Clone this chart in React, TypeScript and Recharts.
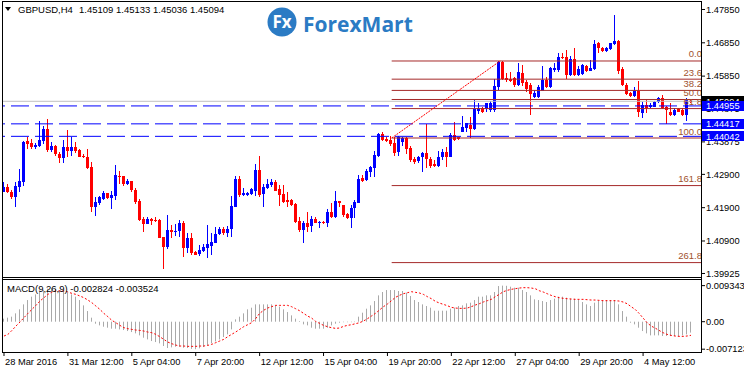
import React from 'react';
import { ComposedChart, Bar, Line, XAxis, YAxis, ReferenceLine } from 'recharts';

const FONT = "'Liberation Sans', Arial, sans-serif";
const W = 744;
const H = 371;

// ---- price data (H4 candles) ----
const opens = [
  1.42383, 1.42513, 1.42383, 1.42233, 1.42533, 1.42683, 1.43903, 1.43853, 1.43713, 1.43763,
  1.43913, 1.44253, 1.43633, 1.43753, 1.43513, 1.43383, 1.43713, 1.43613, 1.43713, 1.43633,
  1.43463, 1.43423, 1.43113, 1.41913, 1.42053, 1.42163, 1.42333, 1.42183, 1.42263, 1.42863,
  1.42853, 1.42613, 1.42703, 1.42433, 1.42103, 1.41563, 1.41423, 1.41563, 1.41533, 1.41533,
  1.41013, 1.40733, 1.41223, 1.41173, 1.41193, 1.41443, 1.40703, 1.41003, 1.40563, 1.40503,
  1.40603, 1.40683, 1.40763, 1.40853, 1.41103, 1.41253, 1.41153, 1.41253, 1.41933, 1.42763,
  1.42273, 1.42293, 1.42313, 1.42413, 1.43033, 1.42303, 1.42503, 1.42583, 1.42673, 1.42453,
  1.42313, 1.42133, 1.42133, 1.42013, 1.41503, 1.41233, 1.41433, 1.41363, 1.41563, 1.41443,
  1.41473, 1.41453, 1.41773, 1.41633, 1.42103, 1.41983, 1.41713, 1.41603, 1.41883, 1.42053,
  1.42803, 1.42733, 1.42983, 1.43103, 1.43463, 1.44104, 1.43964, 1.43934, 1.43834, 1.43564,
  1.43884, 1.43984, 1.43684, 1.43364, 1.43304, 1.43414, 1.43534, 1.43364, 1.43214, 1.43154,
  1.43434, 1.43584, 1.43434, 1.44084, 1.44014, 1.44184, 1.44284, 1.44384, 1.44264, 1.44814,
  1.44884, 1.44854, 1.44834, 1.44833, 1.45532, 1.46260, 1.45803, 1.45754, 1.45784, 1.45583,
  1.45955, 1.45685, 1.45585, 1.45215, 1.45215, 1.45415, 1.45735, 1.45515, 1.46035, 1.46035,
  1.46435, 1.46435, 1.45885, 1.46355, 1.45885, 1.45915, 1.46155, 1.46005, 1.46065, 1.46835,
  1.46705, 1.46615, 1.46655, 1.46815, 1.46905, 1.46055, 1.45585, 1.45335, 1.45255, 1.45415,
  1.44755, 1.44985, 1.44935, 1.44935, 1.45085, 1.45185, 1.44935, 1.44785, 1.44685, 1.44855,
  1.44835, 1.44685, 1.45109,
];
const highs = [
  1.42683, 1.42603, 1.42433, 1.42683, 1.43063, 1.43913, 1.44013, 1.43953, 1.43833, 1.44503,
  1.44353, 1.44563, 1.43863, 1.43783, 1.43583, 1.43933, 1.44233, 1.44023, 1.43883, 1.43653,
  1.43503, 1.43653, 1.43283, 1.42233, 1.42253, 1.42403, 1.42353, 1.42403, 1.43183, 1.42993,
  1.42863, 1.42763, 1.42713, 1.42483, 1.42173, 1.41633, 1.41623, 1.41583, 1.41633, 1.41553,
  1.41033, 1.41673, 1.41383, 1.41403, 1.41523, 1.41513, 1.41133, 1.41133, 1.40593, 1.40783,
  1.40803, 1.41383, 1.41133, 1.41333, 1.41323, 1.41313, 1.41343, 1.42253, 1.42853, 1.42853,
  1.42503, 1.42383, 1.42483, 1.43213, 1.43463, 1.42603, 1.42753, 1.42753, 1.42733, 1.42593,
  1.42583, 1.42363, 1.42153, 1.42033, 1.41613, 1.41503, 1.41783, 1.41653, 1.41633, 1.41503,
  1.41513, 1.41853, 1.42033, 1.42403, 1.42113, 1.41993, 1.41733, 1.41983, 1.42133, 1.42883,
  1.42873, 1.43053, 1.43153, 1.43613, 1.44133, 1.44184, 1.44014, 1.44054, 1.44014, 1.44054,
  1.44034, 1.44014, 1.43754, 1.43434, 1.43464, 1.43564, 1.44414, 1.43434, 1.43334, 1.43614,
  1.43664, 1.43714, 1.44154, 1.44484, 1.44034, 1.44654, 1.44454, 1.44634, 1.45134, 1.45054,
  1.44934, 1.45054, 1.45094, 1.45754, 1.46305, 1.46300, 1.45935, 1.45965, 1.45834, 1.46235,
  1.46185, 1.45735, 1.45635, 1.45435, 1.45585, 1.46155, 1.45815, 1.46135, 1.46235, 1.46535,
  1.46535, 1.46635, 1.46455, 1.46685, 1.46155, 1.46205, 1.46185, 1.46335, 1.46935, 1.46885,
  1.46735, 1.46735, 1.46855, 1.47685, 1.46935, 1.46135, 1.45635, 1.45385, 1.45515, 1.45715,
  1.45085, 1.45155, 1.45035, 1.45115, 1.45235, 1.45285, 1.44955, 1.45055, 1.44885, 1.44885,
  1.44885, 1.45185, 1.45133,
];
const lows = [
  1.42363, 1.42333, 1.42153, 1.41913, 1.42383, 1.42563, 1.43653, 1.43663, 1.43653, 1.43733,
  1.43813, 1.43563, 1.43573, 1.43453, 1.43253, 1.43233, 1.43433, 1.43463, 1.43553, 1.43413,
  1.43383, 1.43073, 1.41773, 1.41663, 1.41983, 1.42123, 1.42153, 1.41873, 1.42133, 1.42613,
  1.42563, 1.42583, 1.42363, 1.42003, 1.41513, 1.41183, 1.41403, 1.41393, 1.41483, 1.40983,
  1.40053, 1.40673, 1.40983, 1.41063, 1.41033, 1.40433, 1.40553, 1.40473, 1.40473, 1.40453,
  1.40583, 1.40383, 1.40483, 1.40833, 1.41083, 1.41083, 1.41033, 1.41033, 1.41913, 1.42233,
  1.42253, 1.42253, 1.42273, 1.42253, 1.42233, 1.41933, 1.42473, 1.42533, 1.42403, 1.41963,
  1.42053, 1.41913, 1.41963, 1.41453, 1.41183, 1.40853, 1.41173, 1.41183, 1.41433, 1.41303,
  1.41413, 1.41333, 1.41603, 1.41603, 1.41913, 1.41633, 1.41553, 1.41283, 1.41603, 1.42033,
  1.42683, 1.42703, 1.42833, 1.42813, 1.43433, 1.43914, 1.43874, 1.43754, 1.43454, 1.43454,
  1.43754, 1.43514, 1.43284, 1.43204, 1.43234, 1.42964, 1.43104, 1.43104, 1.43114, 1.43114,
  1.43334, 1.43134, 1.43414, 1.43914, 1.43934, 1.44164, 1.44164, 1.43984, 1.44234, 1.44714,
  1.44734, 1.44764, 1.44774, 1.44782, 1.45433, 1.45733, 1.45683, 1.45683, 1.45532, 1.45562,
  1.45555, 1.45385, 1.44685, 1.45185, 1.45185, 1.45395, 1.45485, 1.45485, 1.45985, 1.45985,
  1.46355, 1.45755, 1.45855, 1.45855, 1.45855, 1.45885, 1.45985, 1.45995, 1.46035, 1.46535,
  1.46585, 1.46585, 1.46635, 1.46785, 1.45915, 1.45555, 1.45285, 1.45235, 1.45235, 1.44635,
  1.44585, 1.44735, 1.44885, 1.44915, 1.45055, 1.44855, 1.44415, 1.44655, 1.44655, 1.44765,
  1.44655, 1.44517, 1.45036,
];
const closes = [
  1.42533, 1.42363, 1.42233, 1.42553, 1.42703, 1.43883, 1.43813, 1.43713, 1.43783, 1.43933,
  1.44253, 1.43633, 1.43753, 1.43513, 1.43383, 1.43713, 1.43603, 1.43713, 1.43603, 1.43433,
  1.43413, 1.43103, 1.41933, 1.42063, 1.42213, 1.42333, 1.42183, 1.42273, 1.42873, 1.42833,
  1.42613, 1.42713, 1.42433, 1.42083, 1.41533, 1.41413, 1.41553, 1.41513, 1.41503, 1.41003,
  1.40733, 1.41223, 1.41173, 1.41213, 1.41453, 1.40703, 1.41003, 1.40553, 1.40483, 1.40633,
  1.40733, 1.40803, 1.40883, 1.41113, 1.41253, 1.41153, 1.41273, 1.41953, 1.42763, 1.42283,
  1.42333, 1.42333, 1.42453, 1.43033, 1.42283, 1.42523, 1.42613, 1.42673, 1.42413, 1.42283,
  1.42083, 1.42083, 1.41983, 1.41483, 1.41233, 1.41433, 1.41333, 1.41563, 1.41453, 1.41473,
  1.41433, 1.41773, 1.41633, 1.42103, 1.42053, 1.41683, 1.41603, 1.41903, 1.42063, 1.42763,
  1.42713, 1.43003, 1.43123, 1.43483, 1.44113, 1.43934, 1.43914, 1.43804, 1.43534, 1.44014,
  1.43984, 1.43654, 1.43334, 1.43284, 1.43434, 1.43534, 1.43354, 1.43154, 1.43154, 1.43434,
  1.43584, 1.43434, 1.44084, 1.43934, 1.43954, 1.44334, 1.44434, 1.44254, 1.44854, 1.44884,
  1.44784, 1.45034, 1.45034, 1.45553, 1.46270, 1.45754, 1.45733, 1.45712, 1.45583, 1.45965,
  1.45635, 1.45455, 1.45315, 1.45355, 1.45515, 1.45735, 1.45515, 1.46085, 1.46105, 1.46435,
  1.46385, 1.45885, 1.46355, 1.45885, 1.46055, 1.46185, 1.46005, 1.46105, 1.46815, 1.46685,
  1.46615, 1.46705, 1.46835, 1.46905, 1.46015, 1.45585, 1.45315, 1.45265, 1.45415, 1.44785,
  1.44985, 1.44885, 1.44985, 1.45085, 1.45185, 1.44885, 1.44835, 1.44685, 1.44835, 1.44785,
  1.44685, 1.45120, 1.45094,
];

// ---- MACD(9,26,9) ----
const macdMain = [
  0.00078, 0.00104, 0.0013, 0.00216, 0.0032, 0.00449, 0.00561, 0.00648, 0.00708, 0.00769,
  0.0082, 0.00855, 0.00872, 0.00855, 0.0082, 0.00786, 0.00751, 0.00708, 0.00648, 0.00561,
  0.00423, 0.00276, 0.00104, -0.00052, -0.00095, -0.0013, -0.00155, -0.00181, -0.00181, -0.00199,
  -0.00216, -0.00242, -0.00268, -0.00302, -0.00354, -0.00415, -0.00458, -0.00501, -0.00527, -0.00561,
  -0.0063, -0.00682, -0.00665, -0.00648, -0.00648, -0.00674, -0.00682, -0.00705, -0.007123, -0.0069,
  -0.00656, -0.00613, -0.00561, -0.0051, -0.00458, -0.00397, -0.00328, -0.00199, 0.0006, 0.0013,
  0.00216, 0.0032, 0.00363, 0.00449, 0.00449, 0.00449, 0.00449, 0.00449, 0.00423, 0.00389,
  0.0032, 0.0025, 0.00164, 0.00078, 0.00017, -0.00069, -0.00095, -0.00155, -0.00181, -0.00181,
  -0.00181, -0.00155, -0.00095, -0.00052, -0.00026, -0.00009, -0.00009, -0.00009, 0.00002, 0.0013,
  0.00233, 0.00337, 0.00423, 0.00535, 0.00682, 0.00769, 0.0082, 0.0082, 0.0082, 0.00795,
  0.00795, 0.00751, 0.00665, 0.00561, 0.0051, 0.00449, 0.00406, 0.00363, 0.00285, 0.00285,
  0.00285, 0.00285, 0.00337, 0.00363, 0.00406, 0.00423, 0.00475, 0.00492, 0.00561, 0.00648,
  0.00648, 0.00682, 0.00682, 0.00769, 0.00924, 0.009343, 0.0093, 0.00907, 0.00881, 0.00881,
  0.0082, 0.00769, 0.00682, 0.00579, 0.00561, 0.00535, 0.0051, 0.00561, 0.00596, 0.00648,
  0.00648, 0.00622, 0.00596, 0.00596, 0.00561, 0.0051, 0.00449, 0.00406, 0.00492, 0.00535,
  0.00561, 0.00561, 0.00561, 0.00561, 0.00449, 0.00276, 0.0013, -0.00026, -0.00069, -0.00155,
  -0.00242, -0.00302, -0.00354, -0.00354, -0.00354, -0.00371, -0.00371, -0.00371, -0.00371, -0.00371,
  -0.00354, -0.00328, -0.002824,
];
const macdSignal = [
  -0.00371, -0.00328, -0.00225, -0.00112, -0.00009, 0.00104, 0.00216, 0.0032, 0.00423, 0.00535,
  0.00622, 0.00708, 0.00769, 0.00795, 0.00795, 0.00795, 0.00769, 0.00734, 0.00708, 0.00665,
  0.00622, 0.00561, 0.00492, 0.00406, 0.0032, 0.00216, 0.0013, 0.00035, -0.00026, -0.00095,
  -0.00155, -0.00181, -0.00199, -0.00216, -0.00225, -0.00242, -0.00268, -0.00285, -0.00328, -0.00389,
  -0.00458, -0.00527, -0.0057, -0.00605, -0.0063, -0.0063, -0.00639, -0.00639, -0.00639, -0.0063,
  -0.0063, -0.00613, -0.00587, -0.00544, -0.00501, -0.00458, -0.00389, -0.00328, -0.00268, -0.00199,
  -0.0013, -0.00078, -0.00026, 0.00078, 0.00216, 0.00294, 0.00354, 0.00389, 0.00423, 0.00423,
  0.00423, 0.00423, 0.00389, 0.00337, 0.00285, 0.00216, 0.00147, 0.00095, 0.00009, -0.00043,
  -0.00095, -0.0013, -0.00155, -0.00173, -0.00164, -0.00121, -0.00095, -0.00078, -0.00052, -0.00026,
  0.00017, 0.00078, 0.00147, 0.00216, 0.00302, 0.00389, 0.00458, 0.00544, 0.0063, 0.00682,
  0.00725, 0.00751, 0.00777, 0.0076, 0.00743, 0.00708, 0.00648, 0.00596, 0.00527, 0.00484,
  0.00449, 0.00415, 0.00371, 0.00354, 0.00345, 0.00345, 0.00354, 0.00389, 0.00432, 0.00466,
  0.0051, 0.00544, 0.00579, 0.00648, 0.00708, 0.00777, 0.00812, 0.00838, 0.00855, 0.00872,
  0.00881, 0.00881, 0.00872, 0.00855, 0.00803, 0.00769, 0.00725, 0.00682, 0.00648, 0.00622,
  0.00605, 0.00596, 0.00587, 0.00579, 0.00579, 0.00579, 0.0057, 0.00561, 0.00561, 0.00553,
  0.00544, 0.00544, 0.00544, 0.00544, 0.00535, 0.0051, 0.00466, 0.00389, 0.0032, 0.00216,
  0.00095, -0.00026, -0.00112, -0.00164, -0.00225, -0.00285, -0.00328, -0.00354, -0.00371, -0.0038,
  -0.0038, -0.00371, -0.003524,
];

// ---- axes ----
const timeTickBars = [0, 16, 32, 48, 64, 80, 96, 112, 128, 144, 160];
const timeTickLabels = [
  '28 Mar 2016', '31 Mar 12:00', '5 Apr 04:00', '7 Apr 20:00', '12 Apr 12:00', '15 Apr 04:00',
  '19 Apr 20:00', '22 Apr 12:00', '27 Apr 04:00', '29 Apr 20:00', '4 May 12:00',
];
const priceTicks = [1.39925, 1.409, 1.419, 1.429, 1.43875, 1.44875, 1.4585, 1.4685, 1.4785];
const macdTicks = [-0.007123, 0, 0.009343];
const PRICE_DOMAIN: [number, number] = [1.39819, 1.48105];
const MACD_DOMAIN: [number, number] = [-0.00785, 0.01106];

// ---- objects ----
const bidPrice = 1.45094;
const levelLines = [1.44955, 1.44417, 1.44042];
const fibLow = 1.43992;
const fibHigh = 1.46304;
const fibStartBar = 97;
const fibEndBar = 124;
const fibLevels = [0, 23.6, 38.2, 50, 61.8, 100, 161.8, 261.8];
const fibLabels = ['0.0', '23.6', '38.2', '50.0', '61.8', '100.0', '161.8', '261.8'];
const EXTRA_SLOTS = 2;

const N = opens.length;
const lastSlot = N + EXTRA_SLOTS - 1;
const data = Array.from({ length: N + EXTRA_SLOTS }, (_, i) =>
  i < N
    ? {
        i,
        open: opens[i],
        high: highs[i],
        low: lows[i],
        close: closes[i],
        range: [lows[i], highs[i]],
        macd: macdMain[i],
        signal: macdSignal[i],
      }
    : { i }
);

const BULL = '#0000FF';
const BULL_INNER = '#0000FF';
const BEAR = '#FF0000';
const FIB_LINE = '#A52A2A';
const FIB_TEXT = '#A0522D';
const AXIS_FS = 9.3;

function Candle(props: any) {
  const { x, y, width, height, payload } = props;
  if (!payload || payload.open == null || !isFinite(x) || !isFinite(y) || !isFinite(height)) return null;
  const top = Math.min(y, y + height);
  const h = Math.abs(height);
  const { open, close, high, low } = payload;
  const k = high > low ? h / (high - low) : 0;
  const yOpen = top + (high - open) * k;
  const yClose = top + (high - close) * k;
  const bull = close >= open;
  const color = bull ? BULL : BEAR;
  const px = Math.floor(x + width / 2);
  const wTop = Math.round(top);
  const wBot = Math.max(Math.round(top + h), wTop + 1);
  const bTop = Math.round(Math.min(yOpen, yClose));
  const bBot = Math.max(Math.round(Math.max(yOpen, yClose)), bTop + 1);
  return (
    <g>
      <rect x={px} y={wTop} width={1} height={wBot - wTop} fill={color} />
      <rect x={px - 1} y={bTop} width={3} height={bBot - bTop} fill={color} />
      {bull && bBot - bTop > 2 ? (
        <rect x={px} y={bTop + 1} width={1} height={bBot - bTop - 2} fill={BULL_INNER} />
      ) : null}
    </g>
  );
}

function HistBar(props: any) {
  const { x, y, width, height } = props;
  if (!isFinite(x) || !isFinite(y) || !isFinite(height)) return null;
  const px = Math.floor(x + width / 2);
  const top = Math.min(y, y + height);
  const h = Math.max(Math.abs(height), 0.5);
  return <rect x={px} y={top} width={1} height={h} fill="#A9A9A9" />;
}

function TimeTick(props: any) {
  const { x, y, payload } = props;
  const idx = timeTickBars.indexOf(payload.value);
  return (
    <text x={x + 1} y={y} dy="0.71em" textAnchor="start" fontSize={AXIS_FS} fontFamily={FONT} fill="#000">
      {idx >= 0 ? timeTickLabels[idx] : ''}
    </text>
  );
}

function FibLabel(props: any) {
  const { viewBox, text } = props;
  if (!viewBox) return null;
  return (
    <text
      x={viewBox.x + viewBox.width + 1}
      y={viewBox.y - 3.5}
      textAnchor="end"
      fontSize={9.5}
      fontFamily={FONT}
      fill={FIB_TEXT}
    >
      {text}
    </text>
  );
}

function PriceBox(props: any) {
  const { viewBox, text, bg } = props;
  if (!viewBox) return null;
  const right = viewBox.x + viewBox.width;
  const cy = viewBox.y;
  return (
    <g>
      <rect x={right + 1} y={Math.round(cy) - 5} width={43} height={10} fill={bg} />
      <text x={right + 5} y={cy} dy="0.355em" fontSize={AXIS_FS} fontFamily={FONT} fill="#FFFFFF">
        {text}
      </text>
    </g>
  );
}

const fmtPrice = (v: number) => v.toFixed(5);
const fmtMacd = (v: number) => (v === 0 ? '0.00' : String(v));
const axisTick = { fontSize: AXIS_FS, fill: '#000', fontFamily: FONT };

export default function App() {
  const abs: React.CSSProperties = { position: 'absolute', left: 0, top: 0 };
  return (
    <div style={{ position: 'absolute', left: 0, top: 0, width: W, height: H, background: '#fff', overflow: 'hidden' }}>
      {/* main price window: candles + price axis */}
      <div style={abs}>
        <ComposedChart width={W} height={H} data={data} margin={{ top: 1, right: 0, bottom: 94, left: 2 }}>
          <XAxis dataKey="i" type="category" hide />
          <YAxis
            orientation="right"
            type="number"
            width={43}
            domain={PRICE_DOMAIN}
            allowDataOverflow
            ticks={priceTicks}
            interval={0}
            tickFormatter={fmtPrice}
            tick={axisTick}
            tickSize={4}
            tickMargin={1}
            tickLine={{ stroke: '#000' }}
            axisLine={false}
          />
          <Bar dataKey="range" barSize={3} shape={(p: any) => <Candle {...p} />} isAnimationActive={false} />
        </ComposedChart>
      </div>

      {/* objects: bid line, horizontal levels, fibonacci */}
      <div style={abs}>
        <ComposedChart width={W} height={H} data={data} margin={{ top: 1, right: 0, bottom: 94, left: 2 }}>
          <XAxis dataKey="i" type="category" hide />
          <YAxis
            orientation="right"
            type="number"
            width={43}
            domain={PRICE_DOMAIN}
            allowDataOverflow
            tick={false}
            tickLine={false}
            axisLine={false}
          />
          <ReferenceLine y={bidPrice} stroke="#C0C0C0" label={<PriceBox text={bidPrice.toFixed(5)} bg="#000000" />} />
          {levelLines.map((v) => (
            <ReferenceLine
              key={'lvl' + v}
              y={v}
              stroke="#0000FF"
              strokeDasharray="18 6"
              label={<PriceBox text={v.toFixed(5)} bg="#0000FF" />}
            />
          ))}
          {fibLevels.map((lv, k) => {
            const price = fibHigh - ((fibHigh - fibLow) * lv) / 100;
            return (
              <ReferenceLine
                key={'fib' + lv}
                segment={[
                  { x: fibStartBar, y: price },
                  { x: lastSlot, y: price },
                ]}
                stroke={FIB_LINE}
                label={<FibLabel text={fibLabels[k]} />}
              />
            );
          })}
          <ReferenceLine
            segment={[
              { x: fibStartBar, y: fibLow },
              { x: fibEndBar, y: fibHigh },
            ]}
            stroke="#FF0000"
            strokeDasharray="2 1"
          />
        </ComposedChart>
      </div>

      {/* MACD window + time axis */}
      <div style={abs}>
        <ComposedChart width={W} height={H} data={data} margin={{ top: 279, right: 0, bottom: 0, left: 2 }}>
          <XAxis
            dataKey="i"
            type="category"
            ticks={timeTickBars}
            interval={0}
            height={19}
            tick={(p: any) => <TimeTick {...p} />}
            tickSize={4}
            tickLine={{ stroke: '#000' }}
            axisLine={false}
          />
          <YAxis
            orientation="right"
            type="number"
            width={43}
            domain={MACD_DOMAIN}
            allowDataOverflow
            ticks={macdTicks}
            interval={0}
            tickFormatter={fmtMacd}
            tick={axisTick}
            tickSize={4}
            tickMargin={1}
            tickLine={{ stroke: '#000' }}
            axisLine={false}
          />
          <Bar dataKey="macd" barSize={1} shape={(p: any) => <HistBar {...p} />} isAnimationActive={false} />
          <Line
            dataKey="signal"
            stroke="#FF0000"
            strokeWidth={1}
            strokeDasharray="2 2"
            dot={false}
            isAnimationActive={false}
          />
        </ComposedChart>
      </div>

      {/* frame, header texts and watermark */}
      <svg width={W} height={H} style={{ ...abs, pointerEvents: 'none' }}>
        <g stroke="#000" strokeWidth={1} shapeRendering="crispEdges">
          <line x1={2.5} y1={1.5} x2={701.5} y2={1.5} />
          <line x1={2.5} y1={1} x2={2.5} y2={353} />
          <line x1={701.5} y1={1} x2={701.5} y2={353} />
          <line x1={2.5} y1={277.5} x2={701.5} y2={277.5} />
          <line x1={2.5} y1={279.5} x2={701.5} y2={279.5} />
          <line x1={2.5} y1={352.5} x2={701.5} y2={352.5} />
        </g>
        <polygon points="5,7 11,7 8,11" fill="#000" />
        <text x={18} y={12.8} fontSize={9.5} fontFamily={FONT} fill="#000">GBPUSD,H4</text>
        <text x={79} y={12.8} fontSize={9.5} fontFamily={FONT} fill="#000">1.45109 1.45133 1.45036 1.45094</text>
        <text x={7} y={291.5} fontSize={9.5} fontFamily={FONT} fill="#000">MACD(9,26,9) -0.002824 -0.003524</text>
        <circle cx={282} cy={22} r={14.5} fill="#2B7BC4" />
        <text x={282} y={28} textAnchor="middle" fontSize={17} fontWeight="bold" fontFamily="'Open Sans', sans-serif" fill="#fff">Fx</text>
        <text x={303} y={31.5} fontSize={21} fontWeight="bold" fontFamily="'Open Sans', sans-serif" fill="#2B7BC4">ForexMart</text>
      </svg>
    </div>
  );
}
